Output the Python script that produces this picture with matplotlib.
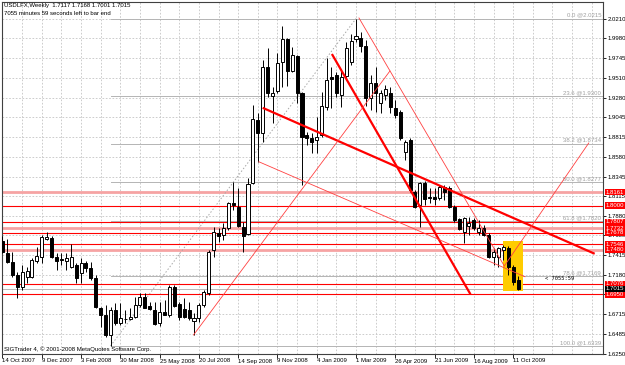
import numpy as np
import matplotlib
matplotlib.use('Agg')
import matplotlib.pyplot as plt
from matplotlib import font_manager
from matplotlib.patches import Rectangle
from matplotlib.transforms import blended_transform_factory

# weekly USDLFX candles, 14 Oct 2007 .. 18 Oct 2009
opens = [1.7582, 1.7440, 1.7333, 1.7179, 1.7037, 1.7155, 1.7155, 1.7345, 1.7392, 1.7605,
         1.7617, 1.7392, 1.7369, 1.7345, 1.7274, 1.7297, 1.7203, 1.7321, 1.7262, 1.7143,
         1.6788, 1.6705, 1.6469, 1.6765, 1.6611, 1.6658, 1.6658, 1.6682, 1.6824, 1.6919,
         1.6812, 1.6765, 1.6611, 1.6741, 1.6705, 1.7037, 1.6836, 1.6776, 1.6765, 1.6634,
         1.6670, 1.6824, 1.6966, 1.7475, 1.7676, 1.7653, 1.7736, 1.8032, 1.7984, 1.7747,
         1.7665, 1.8268, 1.9014, 1.8860, 1.9642, 1.9298, 1.9358, 1.9701, 1.9973, 1.9594,
         1.9772, 1.9334, 1.8837, 1.8801, 1.8777, 1.8837, 1.9168, 1.9523, 1.9547, 1.9310,
         1.9535, 1.9700, 1.9973, 1.9985, 1.9890, 1.9275, 1.9452, 1.9215, 1.9310, 1.9334,
         1.9156, 1.9109, 1.8635, 1.8777, 1.8162, 1.8008, 1.8268, 1.8103, 1.8103, 1.8091,
         1.8221, 1.8209, 1.7984, 1.7842, 1.7688, 1.7759, 1.7830, 1.7688, 1.7736, 1.7653,
         1.7392, 1.7392, 1.7475, 1.7499, 1.7274, 1.7117]
highs = [1.7641, 1.7605, 1.7451, 1.7215, 1.7297, 1.7274, 1.7380, 1.7511, 1.7653, 1.7688,
         1.7641, 1.7440, 1.7440, 1.7440, 1.7546, 1.7321, 1.7380, 1.7345, 1.7333, 1.7179,
         1.6800, 1.6824, 1.6800, 1.6848, 1.6848, 1.6765, 1.6788, 1.6919, 1.6966, 1.6966,
         1.6859, 1.6859, 1.6859, 1.6883, 1.7061, 1.7061, 1.6859, 1.6907, 1.6859, 1.6729,
         1.6848, 1.7001, 1.7475, 1.7747, 1.7736, 1.7795, 1.8043, 1.8280, 1.8209, 1.7807,
         1.8328, 1.9192, 1.9097, 1.9725, 1.9867, 1.9405, 1.9807, 2.0127, 1.9985, 1.9879,
         1.9784, 1.9346, 1.8872, 1.8860, 1.9050, 1.9346, 1.9748, 1.9642, 1.9583, 1.9606,
         1.9938, 2.0027, 2.0215, 2.0056, 1.9961, 1.9547, 1.9642, 1.9369, 1.9429, 1.9405,
         1.9251, 1.9133, 1.8777, 1.8801, 1.8185, 1.8280, 1.8292, 1.8209, 1.8209, 1.8245,
         1.8245, 1.8233, 1.8008, 1.7854, 1.7866, 1.7866, 1.7854, 1.7830, 1.7771, 1.7676,
         1.7499, 1.7511, 1.7535, 1.7523, 1.7297, 1.7168]
lows = [1.7440, 1.7321, 1.7155, 1.6907, 1.7001, 1.7084, 1.7143, 1.7321, 1.7321, 1.7594,
        1.7380, 1.7238, 1.7297, 1.7238, 1.7262, 1.7084, 1.7084, 1.7215, 1.7120, 1.6788,
        1.6563, 1.6445, 1.6339, 1.6587, 1.6587, 1.6611, 1.6646, 1.6675, 1.6800, 1.6788,
        1.6765, 1.6587, 1.6575, 1.6705, 1.6682, 1.6800, 1.6646, 1.6670, 1.6646, 1.6469,
        1.6623, 1.6800, 1.6942, 1.7392, 1.7570, 1.7594, 1.7712, 1.7949, 1.7747, 1.7451,
        1.7653, 1.8256, 1.8517, 1.8754, 1.9287, 1.8979, 1.9334, 1.9405, 1.9417, 1.9583,
        1.9215, 1.8245, 1.8718, 1.8624, 1.8624, 1.8813, 1.9133, 1.9156, 1.9287, 1.9168,
        1.9488, 1.9660, 1.9938, 1.9819, 1.9180, 1.9133, 1.9109, 1.9097, 1.9251, 1.9097,
        1.9038, 1.8777, 1.8541, 1.8162, 1.7972, 1.7747, 1.8008, 1.8032, 1.8008, 1.8067,
        1.8067, 1.7972, 1.7807, 1.7712, 1.7558, 1.7653, 1.7712, 1.7653, 1.7641, 1.7380,
        1.7297, 1.7274, 1.7357, 1.7179, 1.7061, 1.7001]
closes = [1.7451, 1.7333, 1.7179, 1.7037, 1.7215, 1.7226, 1.7357, 1.7404, 1.7629, 1.7629,
          1.7392, 1.7345, 1.7357, 1.7380, 1.7392, 1.7143, 1.7321, 1.7262, 1.7143, 1.6800,
          1.6705, 1.6469, 1.6765, 1.6611, 1.6670, 1.6660, 1.6682, 1.6824, 1.6919, 1.6790,
          1.6776, 1.6599, 1.6741, 1.6708, 1.7037, 1.6812, 1.6682, 1.6682, 1.6670, 1.6670,
          1.6824, 1.6978, 1.7451, 1.7688, 1.7641, 1.7736, 1.8032, 1.8008, 1.7759, 1.7641,
          1.8256, 1.9026, 1.8860, 1.9642, 1.9334, 1.9334, 1.9689, 1.9973, 1.9594, 1.9784,
          1.9334, 1.8813, 1.8801, 1.8754, 1.8813, 1.9180, 1.9488, 1.9500, 1.9334, 1.9523,
          1.9867, 1.9950, 2.0009, 1.9890, 1.9275, 1.9452, 1.9334, 1.9334, 1.9381, 1.9168,
          1.9073, 1.8801, 1.8754, 1.8185, 1.7984, 1.8268, 1.8079, 1.8091, 1.8079, 1.8221,
          1.8162, 1.7984, 1.7830, 1.7724, 1.7854, 1.7795, 1.7736, 1.7736, 1.7653, 1.7392,
          1.7451, 1.7499, 1.7511, 1.7274, 1.7096, 1.7015]

date_labels = ['14 Oct 2007', '9 Dec 2007', '3 Feb 2008', '30 Mar 2008', '25 May 2008',
               '20 Jul 2008', '14 Sep 2008', '9 Nov 2008', '4 Jan 2009', '1 Mar 2009',
               '26 Apr 2009', '21 Jun 2009', '16 Aug 2009', '11 Oct 2009']
price_ticks = [2.0210, 1.9980, 1.9745, 1.9510, 1.9280, 1.9045, 1.8815, 1.8580, 1.8345,
               1.8115, 1.7880, 1.7650, 1.7415, 1.7180, 1.6950, 1.6715, 1.6485, 1.6250]

# horizontal support / resistance lines
hlines = [1.8161, 1.8000, 1.7807, 1.7732, 1.7678, 1.7546, 1.7480, 1.7076, 1.6950]
hlines_light = [1.8161, 1.7732, 1.7480]
bid = 1.7015

# fibonacci retracement (from the 2008 low to the 2009 high)
fib_names = ['0.0', '23.6', '38.2', '50.0', '61.8', '78.6', '100.0']
fib_prices = [2.0215, 1.9300, 1.8734, 1.8277, 1.7820, 1.7169, 1.6339]
fib_start = 22
fib_base = [(22, 1.6339), (72, 2.0215)]

# trend lines (bar index, price)
thick_lines = [[(53.2, 1.9153), (120.4, 1.7436)],
               [(67.2, 1.9784), (95.2, 1.6962)]]
thin_lines = [[(52.2, 1.8520), (106.4, 1.7159)],
              [(72.6, 2.0222), (102.2, 1.7286)],
              [(38.9, 1.6469), (78.9, 1.9594)],
              [(102.2, 1.7286), (119.4, 1.8742)]]

# narrow font if the system has it, else plain Liberation Sans a bit smaller
try:
    font_manager.findfont('Liberation Sans Narrow', fallback_to_default=False)
    FONT, FS = 'Liberation Sans Narrow', 5.2
except ValueError:
    FONT, FS = 'Liberation Sans', 4.3

fig = plt.figure(figsize=(6.25, 3.65), dpi=100)
ax = fig.add_axes([2 / 625, 11.5 / 365, 601 / 625, 351.5 / 365])
ax.set_xlim(-0.1, 122.3)
ax.set_ylim(1.6250, 2.0411)

# grid
for gx in range(4, 123, 4):
    ax.axvline(gx, color='#c4c4c4', lw=0.6, ls=(0, (2, 2)), zorder=0)
for gy in price_ticks:
    ax.axhline(gy, color='#c4c4c4', lw=0.6, ls=(0, (2, 2)), zorder=0)

# horizontal levels
for lv in hlines:
    if lv in hlines_light:
        ax.axhline(lv, color='#f6a3a3', lw=2.0, zorder=1)
    else:
        ax.axhline(lv, color='#ff0000', lw=0.8, zorder=1.1)
ax.axhline(bid, color='#b8b8b8', lw=0.7, zorder=1)

# fibonacci levels
for name, p in zip(fib_names, fib_prices):
    ax.plot([fib_start, 122.3], [p, p], color='#b4b4b4', lw=0.7, zorder=1)
    ax.text(121.9, p + 0.0012, '%s @%.4f' % (name, p), ha='right', va='bottom',
            fontsize=FS, color='#a0a0a0', family=FONT, zorder=2)
ax.plot([fib_base[0][0], fib_base[1][0]], [fib_base[0][1], fib_base[1][1]],
        color='#a8a8a8', lw=0.7, ls=(0, (1.5, 2)), zorder=1)

# highlighted area
ax.add_patch(Rectangle((101.9, 1.6985), 4.2, 0.0600, facecolor='#ffcc00',
                       edgecolor='none', zorder=1.5))

# candles
x = np.arange(len(opens))
o = np.array(opens)
c = np.array(closes)
up = c >= o
ax.vlines(x, lows, highs, color='black', lw=0.7, zorder=3)
ax.bar(x[up], (c - o)[up], bottom=o[up], width=0.62, color='white',
       edgecolor='black', lw=0.7, zorder=4)
ax.bar(x[~up], (o - c)[~up], bottom=c[~up], width=0.62, color='black',
       edgecolor='black', lw=0.7, zorder=4)

# trend lines
for seg in thick_lines:
    ax.plot([seg[0][0], seg[1][0]], [seg[0][1], seg[1][1]], color='#ff0000', lw=1.6, zorder=5)
for seg in thin_lines:
    ax.plot([seg[0][0], seg[1][0]], [seg[0][1], seg[1][1]], color='#ff4040', lw=0.6, zorder=5)

ax.text(110.5, 1.7132, '< 7055:59', ha='left', va='center', fontsize=FS - 0.4,
        family='DejaVu Sans Mono', color='black', zorder=6)

# axes styling
for s in ax.spines.values():
    s.set_color('#404040')
    s.set_linewidth(0.8)
ax.yaxis.tick_right()
ax.set_yticks(price_ticks)
ax.set_yticklabels(['%.4f' % t for t in price_ticks])
ax.tick_params(axis='y', length=2, width=0.6, pad=1.2, labelsize=FS, colors='black')
ax.set_xticks(range(0, 105, 8))
ax.set_xticklabels(date_labels, ha='left')
ax.tick_params(axis='x', length=3, width=0.6, pad=0.6, labelsize=FS)
for lab in ax.get_xticklabels() + ax.get_yticklabels():
    lab.set_family(FONT)

# price tags on the right scale
tr = blended_transform_factory(ax.transAxes, ax.transData)
for lv in hlines:
    ax.text(1.0045, lv, '%.4f' % lv, transform=tr, ha='left', va='center', fontsize=FS,
            color='white', family=FONT, clip_on=False, zorder=10,
            bbox=dict(boxstyle='square,pad=0.12', fc='#ff0000', ec='none'))
ax.text(1.0045, bid, '%.4f' % bid, transform=tr, ha='left', va='center', fontsize=FS,
        color='white', family=FONT, clip_on=False, zorder=11,
        bbox=dict(boxstyle='square,pad=0.12', fc='black', ec='none'))

fig.text(4 / 625, 1 - 3 / 365, 'USDLFX,Weekly  1.7117 1.7168 1.7001 1.7015', ha='left',
         va='top', fontsize=FS, family=FONT)
fig.text(4 / 625, 1 - 11 / 365, '7055 minutes 59 seconds left to bar end', ha='left',
         va='top', fontsize=FS, family=FONT)
fig.text(4 / 625, 1 - 349 / 365, 'SIGTrader 4, \u00a9 2001-2008 MetaQuotes Software Corp.',
         ha='left', va='center', fontsize=FS, family=FONT)

fig.savefig('out.png', dpi=100)
